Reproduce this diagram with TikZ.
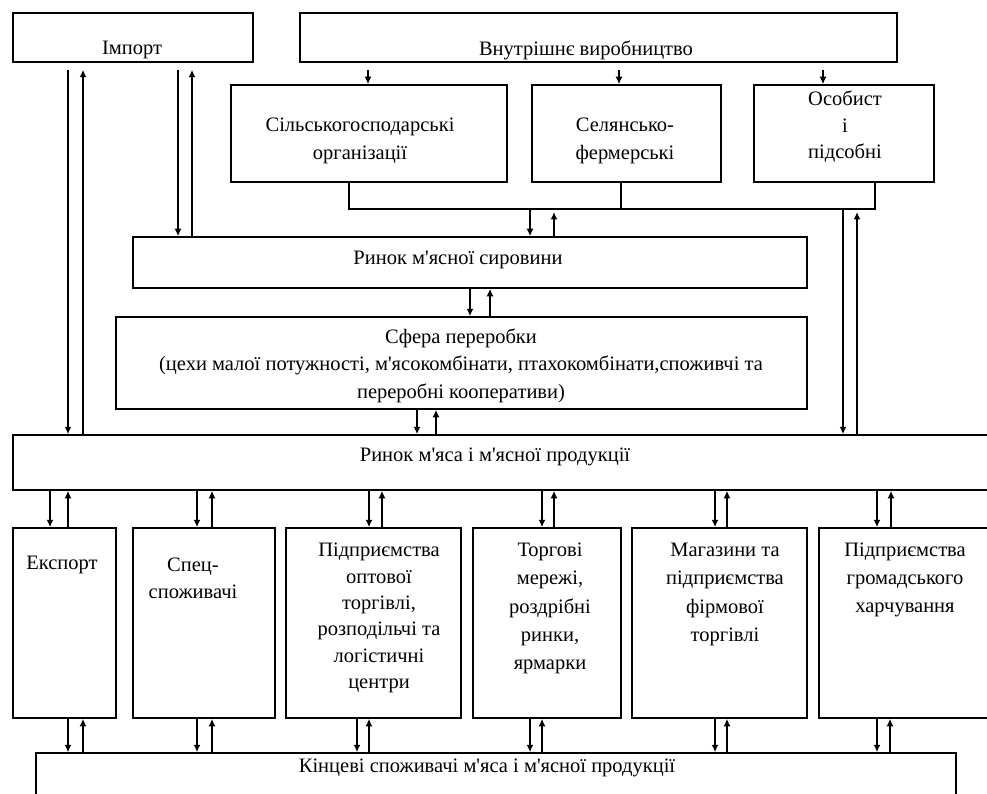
\documentclass[tikz,border=0pt]{standalone}
\usepackage{fontspec}
\newfontfamily\uaserif{Liberation Serif}
\usetikzlibrary{arrows.meta}
\begin{document}
\begin{tikzpicture}[x=1pt,y=-1pt,
  every node/.style={font=\uaserif\fontsize{20.5}{28}\selectfont},
  box/.style={draw, line width=1.5pt, inner sep=0pt},
  lbl/.style={inner sep=0pt, align=center},
  link/.style={line width=1.5pt},
  arr/.style={line width=2pt, -{Latex[length=7.5pt,width=7pt]}},
]
\useasboundingbox (0,0) rectangle (987,794);
\clip (0,0) rectangle (987,794);
\fill[white] (0,0) rectangle (987,794);

% boxes
\node[box, minimum width=240pt, minimum height=49pt] (imp) at (133,37.5) {};
\node[box, minimum width=597pt, minimum height=49pt] (vnu) at (598.5,37.5) {};
\node[box, minimum width=276pt, minimum height=97pt] (silg) at (369,133.5) {};
\node[box, minimum width=189pt, minimum height=97pt] (sel) at (626.5,133.5) {};
\node[box, minimum width=180pt, minimum height=97pt] (osob) at (844,133.5) {};
\node[box, minimum width=674pt, minimum height=51pt] (rsyr) at (470,262.5) {};
\node[box, minimum width=691pt, minimum height=92pt] (sfera) at (461.5,363) {};
\node[box, minimum width=987pt, minimum height=55pt] (rmyas) at (506.5,462.5) {};
\node[box, minimum width=103pt, minimum height=190pt] (exp) at (64.5,623) {};
\node[box, minimum width=142pt, minimum height=190pt] (spec) at (204,623) {};
\node[box, minimum width=175pt, minimum height=190pt] (opt) at (373.5,623) {};
\node[box, minimum width=148pt, minimum height=190pt] (torg) at (547,623) {};
\node[box, minimum width=175pt, minimum height=190pt] (mag) at (719.5,623) {};
\node[box, minimum width=181pt, minimum height=190pt] (grom) at (909.5,623) {};
\node[box, minimum width=920pt, minimum height=67pt] (kinc) at (496,786.5) {};

% labels
\node[lbl] (limp) at (132,50) {Імпорт};
\node[lbl] (lvnu) at (586,50) {Внутрішнє виробництво};
\node[lbl] (lsilg) at (360,141) {Сільськогосподарські\\організації};
\node[lbl] (lsel) at (625,141) {Селянсько-\\фермерські};
\node[lbl, font=\uaserif\fontsize{20.5}{26.5}\selectfont] (losob) at (845,127) {Особист\\і\\підсобні};
\node[lbl] (lrsyr) at (458,260) {Ринок м'ясної сировини};
\node[lbl, font=\uaserif\fontsize{20.5}{27.5}\selectfont] (lsfera) at (461,365.5) {Сфера переробки\\(цехи малої потужності, м'ясокомбінати, птахокомбінати,споживчі та\\переробні кооперативи)};
\node[lbl] (lrmyas) at (495,457) {Ринок м'яса і м'ясної продукції};
\node[lbl] (lexp) at (62,565) {Експорт};
\node[lbl, font=\uaserif\fontsize{20.5}{27}\selectfont] (lspec) at (193,578.5) {Спец-\\споживачі};
\node[lbl, font=\uaserif\fontsize{20.5}{26.4}\selectfont] (lopt) at (379,618) {Підприємства\\оптової\\торгівлі,\\розподільчі та\\логістичні\\центри};
\node[lbl, font=\uaserif\fontsize{20.5}{28.3}\selectfont] (ltorg) at (550,608.5) {Торгові\\мережі,\\роздрібні\\ринки,\\ярмарки};
\node[lbl, font=\uaserif\fontsize{20.5}{28.3}\selectfont] (lmag) at (725,594.5) {Магазини та\\підприємства\\фірмової\\торгівлі};
\node[lbl] (lgrom) at (905,580) {Підприємства\\громадського\\харчування};
\node[lbl] (lkinc) at (487,768) {Кінцеві споживачі м'яса і м'ясної продукції};

% import arrows
\draw[arr, shorten <=7pt] (68,0 |- imp.south) -- (68,0 |- rmyas.north);
\draw[arr, shorten >=7pt] (83,0 |- rmyas.north) -- (83,0 |- imp.south);
\draw[arr, shorten <=7pt] (178,0 |- imp.south) -- (178,0 |- rsyr.north);
\draw[arr, shorten >=7pt] (192,0 |- rsyr.north) -- (192,0 |- imp.south);

% internal production arrows
\draw[arr, shorten <=7pt] (368,0 |- vnu.south) -- (368,0 |- silg.north);
\draw[arr, shorten <=7pt] (619,0 |- vnu.south) -- (619,0 |- sel.north);
\draw[arr, shorten <=7pt] (823,0 |- vnu.south) -- (823,0 |- osob.north);

% collector line
\coordinate (jl) at (349,209);
\coordinate (jr) at (875,209);
\draw[link] (349,0 |- silg.south) -- (jl) -- (jr) -- (875,0 |- osob.south);
\draw[link] (621,0 |- sel.south) -- (621,0 |- jl);
\draw[arr] (530,0 |- jl) -- (530,0 |- rsyr.north);
\draw[arr, shorten >=3pt] (554,0 |- rsyr.north) -- (554,0 |- jl);
\draw[arr] (843,0 |- jl) -- (843,0 |- rmyas.north);
\draw[arr, shorten >=3pt] (857,0 |- rmyas.north) -- (857,0 |- jl);

% raw market <-> processing <-> meat market
\draw[arr] (470,0 |- rsyr.south) -- (470,0 |- sfera.north);
\draw[arr] (490,0 |- sfera.north) -- (490,0 |- rsyr.south);
\draw[arr] (417,0 |- sfera.south) -- (417,0 |- rmyas.north);
\draw[arr] (436,0 |- rmyas.north) -- (436,0 |- sfera.south);

% meat market <-> channels
\foreach \d/\u/\b in {50/68/exp, 197/212/spec, 369/382/opt, 542/554/torg, 715/727/mag, 877/891/grom}{
  \draw[arr] (\d,0 |- rmyas.south) -- (\d,0 |- \b.north);
  \draw[arr] (\u,0 |- \b.north) -- (\u,0 |- rmyas.south);
}
% channels <-> final consumers
\foreach \d/\u/\b in {68/83/exp, 197/212/spec, 357/369/opt, 530/542/torg, 715/727/mag, 877/890/grom}{
  \draw[arr] (\d,0 |- \b.south) -- (\d,0 |- kinc.north);
  \draw[arr] (\u,0 |- kinc.north) -- (\u,0 |- \b.south);
}
\end{tikzpicture}
\end{document}
